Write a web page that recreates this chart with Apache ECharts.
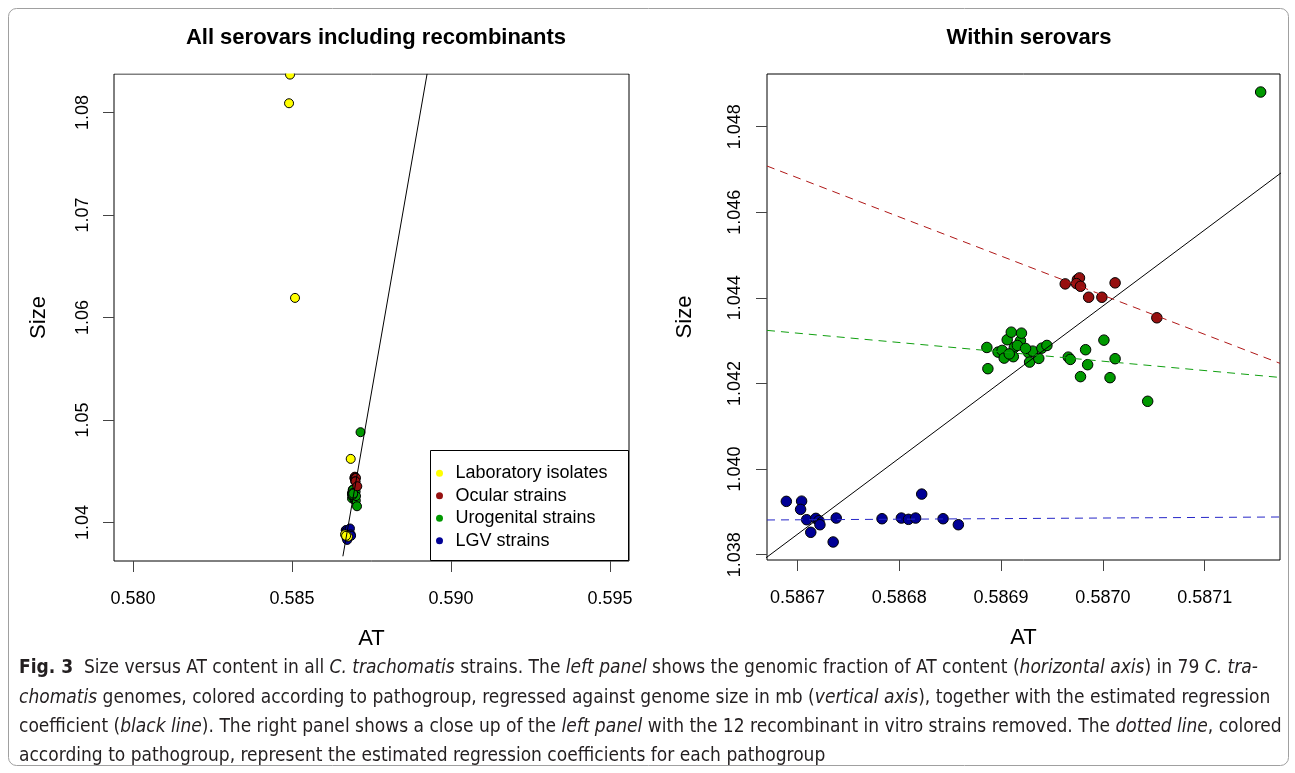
<!DOCTYPE html>
<html>
<head>
<meta charset="utf-8">
<script src="https://cdn.jsdelivr.net/npm/echarts@6.0.0/dist/echarts.min.js"></script>
<style>
html,body{margin:0;padding:0;background:#fff;}
#main{width:1295px;height:773px;}
</style>
</head>
<body>
<div id="main"></div>
<script>
// AT content vs genome size (mb)
var labPoints = [
  [0.584937, 1.08370], [0.584906, 1.080906], [0.585094, 1.061913], [0.586846, 1.046204],
  [0.586667, 1.038831], [0.586760, 1.038607], [0.586700, 1.038700]
];
var ocularPoints = [
  [0.586963, 1.044326], [0.586975, 1.044427], [0.586977, 1.044466], [0.586974, 1.044333],
  [0.586978, 1.044270], [0.587012, 1.044350], [0.586986, 1.044014], [0.586999, 1.044014],
  [0.587053, 1.043534]
];
var urogenitalPoints = [
  [0.586886, 1.042841], [0.586887, 1.042345], [0.586897, 1.042732], [0.586901, 1.042772],
  [0.586903, 1.042592], [0.586906, 1.043021], [0.586910, 1.043198], [0.586913, 1.042841],
  [0.586912, 1.042625], [0.586919, 1.042998], [0.586920, 1.043175], [0.586927, 1.042718],
  [0.586931, 1.042755], [0.586928, 1.042499], [0.586937, 1.042585], [0.586940, 1.042825],
  [0.586945, 1.042888], [0.586966, 1.042615], [0.586968, 1.042562], [0.586983, 1.042788],
  [0.586985, 1.042438], [0.586978, 1.042159], [0.587001, 1.043012], [0.587007, 1.042135],
  [0.587012, 1.042578], [0.587044, 1.041583], [0.587155, 1.048809],
  [0.586908, 1.042690], [0.586916, 1.042888], [0.586924, 1.042818]
];
var lgvPoints = [
  [0.586689, 1.039245], [0.586704, 1.039250], [0.586703, 1.039058], [0.586709, 1.038816],
  [0.586718, 1.038848], [0.586721, 1.038793], [0.586722, 1.038699], [0.586713, 1.038522],
  [0.586735, 1.038296], [0.586738, 1.038855], [0.586783, 1.038839], [0.586802, 1.038855],
  [0.586809, 1.038825], [0.586816, 1.038855], [0.586822, 1.039415], [0.586843, 1.038839],
  [0.586858, 1.038699]
];

// regression lines (end points)
var overallFit = [[0.58660, 1.0367], [0.58925, 1.0838]];
var ocularFit = [[0.586670, 1.04708], [0.587174, 1.04247]];
var urogenitalFit = [[0.586670, 1.04324], [0.587174, 1.04214]];
var lgvFit = [[0.586670, 1.03881], [0.587174, 1.03888]];

// tick labels
var leftXTicks = [0.580, 0.585, 0.590, 0.595];
var leftYTicks = [1.04, 1.05, 1.06, 1.07, 1.08];
var rightXTicks = [0.5867, 0.5868, 0.5869, 0.5870, 0.5871];
var rightYTicks = [1.038, 1.040, 1.042, 1.044, 1.046, 1.048];

var groupNames = ['Laboratory isolates', 'Ocular strains', 'Urogenital strains', 'LGV strains'];
var groupColors = ['#FFFF00', '#961010', '#009900', '#000096'];

var font = '"Liberation Sans", Arial, sans-serif';
var capFont = '"Liberation Sans Narrow", "DejaVu Sans Condensed", sans-serif';
var capSize = 19;

var chart = echarts.init(document.getElementById('main'));

function xAxisOf(idx, min, max, ticks, dec) {
  return {
    type: 'value', gridIndex: idx, min: min, max: max,
    name: 'AT', nameLocation: 'middle', nameGap: 67,
    nameTextStyle: {fontFamily: font, fontSize: 22, color: '#000'},
    axisLine: {show: false},
    splitLine: {show: false},
    axisTick: {show: true, length: 11, customValues: ticks, lineStyle: {color: '#444'}},
    axisLabel: {customValues: ticks, margin: 29, fontFamily: font, fontSize: 18, color: '#000',
      formatter: function (v) { return v.toFixed(dec); }}
  };
}
function yAxisOf(idx, min, max, ticks, dec, gap, margin) {
  return {
    type: 'value', gridIndex: idx, min: min, max: max,
    name: 'Size', nameLocation: 'middle', nameGap: gap, nameRotate: 90,
    nameTextStyle: {fontFamily: font, fontSize: 22, color: '#000'},
    axisLine: {show: false},
    splitLine: {show: false},
    axisTick: {show: true, length: 11, customValues: ticks, lineStyle: {color: '#444'}},
    axisLabel: {customValues: ticks, rotate: 90, margin: margin, fontFamily: font, fontSize: 18, color: '#000',
      formatter: function (v) { return v.toFixed(dec); }}
  };
}
function pointSeries(name, data, color, idx, size) {
  return {
    name: name, type: 'scatter', xAxisIndex: idx, yAxisIndex: idx,
    data: data, symbol: 'circle', symbolSize: size,
    itemStyle: {color: color, borderColor: '#000', borderWidth: 1, opacity: 1},
    emphasis: {disabled: true}
  };
}
function lineSeries(name, data, color, idx, dashed) {
  return {
    name: name, type: 'line', xAxisIndex: idx, yAxisIndex: idx,
    data: data, symbol: 'none', clip: true, silent: true, z: 5,
    lineStyle: {color: color, width: 1, type: dashed ? [8, 6] : 'solid', opacity: 1}
  };
}
function capStyle(text) {
  return {
    text: text,
    font: capSize + 'px ' + capFont, fill: '#231f20',
    rich: {
      b: {fontWeight: 'bold', fontSize: capSize, fontFamily: capFont, fill: '#231f20'},
      i: {fontStyle: 'italic', fontSize: capSize, fontFamily: capFont, fill: '#231f20'}
    }
  };
}

var option = {
  animation: false,
  backgroundColor: '#fff',
  title: [
    {text: 'All serovars including recombinants', left: 371, top: 22, textAlign: 'center',
      textStyle: {fontFamily: font, fontSize: 22, fontWeight: 'bold', color: '#000'}},
    {text: 'Within serovars', left: 1024, top: 22, textAlign: 'center',
      textStyle: {fontFamily: font, fontSize: 22, fontWeight: 'bold', color: '#000'}}
  ],
  grid: [
    {left: 114, top: 74, width: 515, height: 487, show: true, borderColor: '#000', borderWidth: 1, backgroundColor: 'transparent'},
    {left: 767, top: 74, width: 513, height: 486, show: true, borderColor: '#000', borderWidth: 1, backgroundColor: 'transparent'}
  ],
  xAxis: [
    xAxisOf(0, 0.5794, 0.5956, leftXTicks, 3),
    xAxisOf(1, 0.586670, 0.587174, rightXTicks, 4)
  ],
  yAxis: [
    yAxisOf(0, 1.03624, 1.08376, leftYTicks, 2, 64, 22),
    yAxisOf(1, 1.037875, 1.049230, rightYTicks, 3, 71, 23)
  ],
  legend: {
    orient: 'vertical', left: 436, top: 462, padding: 0,
    itemWidth: 22, itemHeight: 7, itemGap: 0, selectedMode: false,
    textStyle: {fontFamily: font, fontSize: 18, color: '#000', lineHeight: 22.5},
    data: groupNames.map(function (n, i) {
      return {name: n, icon: 'circle', itemStyle: {color: groupColors[i], borderWidth: 0}};
    })
  },
  graphic: [
    {type: 'rect', z: 1, shape: {x: 430.5, y: 450.5, width: 198, height: 110},
      style: {fill: '#fff', stroke: '#000', lineWidth: 1}},
    {type: 'rect', z: 100, shape: {x: 104, y: 50, width: 535, height: 23.5},
      style: {fill: '#fff'}},
    {type: 'rect', z: 0, shape: {x: 8.5, y: 8.5, width: 1280, height: 757, r: 8},
      style: {fill: 'none', stroke: '#a0a0a0', lineWidth: 1}},
    {type: 'text', left: 19, top: 659, style: capStyle(
      '{b|Fig. 3}  Size versus AT content in all {i|C. trachomatis} strains. The {i|left panel} shows the genomic fraction of AT content ({i|horizontal axis}) in 79 {i|C. tra-}')},
    {type: 'text', left: 19, top: 689, style: capStyle(
      '{i|chomatis} genomes, colored according to pathogroup, regressed against genome size in mb ({i|vertical axis}), together with the estimated regression')},
    {type: 'text', left: 19, top: 718, style: capStyle(
      'coefficient ({i|black line}). The right panel shows a close up of the {i|left panel} with the 12 recombinant in vitro strains removed. The {i|dotted line}, colored')},
    {type: 'text', left: 19, top: 747, style: capStyle(
      'according to pathogroup, represent the estimated regression coefficients for each pathogroup')}
  ],
  series: [
    pointSeries('LGV strains', lgvPoints, groupColors[3], 0, 9),
    pointSeries('Urogenital strains', urogenitalPoints, groupColors[2], 0, 9),
    pointSeries('Ocular strains', ocularPoints, groupColors[1], 0, 9),
    pointSeries('Laboratory isolates', labPoints, groupColors[0], 0, 9),
    lineSeries('fit all', overallFit, '#000', 0, false),

    pointSeries('LGV strains', lgvPoints, groupColors[3], 1, 10.5),
    pointSeries('Urogenital strains', urogenitalPoints, groupColors[2], 1, 10.5),
    pointSeries('Ocular strains', ocularPoints, groupColors[1], 1, 10.5),
    lineSeries('fit all', overallFit, '#000', 1, false),
    lineSeries('fit ocular', ocularFit, '#B01818', 1, true),
    lineSeries('fit urogenital', urogenitalFit, '#10A010', 1, true),
    lineSeries('fit lgv', lgvFit, '#2626C8', 1, true)
  ]
};
chart.setOption(option);
</script>
</body>
</html>
